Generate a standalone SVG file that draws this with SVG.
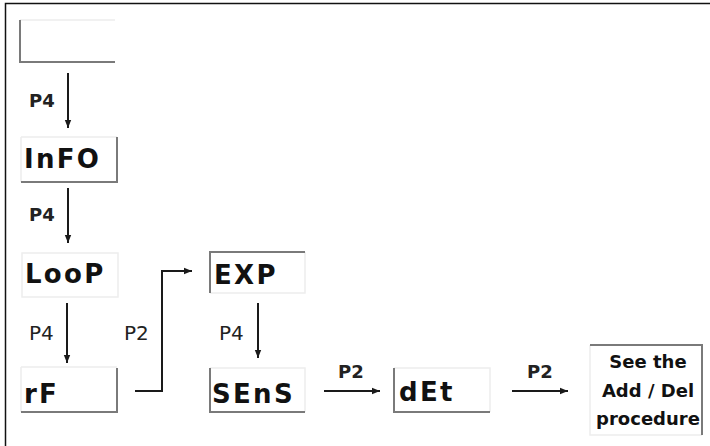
<svg xmlns="http://www.w3.org/2000/svg" width="710" height="446" viewBox="0 0 710 446">
<style>
.frame{fill:none;stroke:#111;stroke-width:1.5}
.dk{fill:none;stroke:#7a7a7a;stroke-width:2}
.lt{fill:none;stroke:#ededed;stroke-width:1.5}
.node{font-family:"DejaVu Sans",Verdana,sans-serif;font-weight:bold;font-size:26px;letter-spacing:2.3px;fill:#111}
.lb{font-family:"DejaVu Sans",Verdana,sans-serif;font-weight:bold;font-size:18px;fill:#222}
.lr{font-family:"DejaVu Sans",Verdana,sans-serif;font-size:20px;fill:#222}
.note{font-family:"DejaVu Sans",Verdana,sans-serif;font-weight:bold;font-size:18px;fill:#111;text-anchor:middle}
.cn{fill:none;stroke:#1a1a1a;stroke-width:2;marker-end:url(#ah)}
</style>
<defs>
<marker id="ah" markerUnits="userSpaceOnUse" markerWidth="9" markerHeight="8" refX="8" refY="4" orient="auto">
<path d="M0,0.8 L8,4 L0,7.2 z" fill="#1a1a1a"/>
</marker>
</defs>
<rect width="710" height="446" fill="#fff"/>
<path class="frame" d="M5.5,446 V3.5 H710"/>

<g id="node-blank">
<path class="lt" d="M20,20 H115"/>
<path class="dk" d="M20,20 V62 H115"/>
</g>
<g id="node-info">
<path class="lt" d="M21,137 H117 M21,137 V182"/>
<path class="dk" d="M117,137 V182 H21"/>
<text class="node" x="24" y="168">InFO</text>
</g>
<g id="node-loop">
<path class="lt" d="M22,253 H118 V297 H22 Z"/>
<text class="node" x="25" y="283">LooP</text>
</g>
<g id="node-rf">
<path class="lt" d="M21,367 H117 M21,367 V412"/>
<path class="dk" d="M117,368 V412 H21"/>
<text class="node" x="24" y="403">rF</text>
</g>
<g id="node-exp">
<path class="lt" d="M305,252 V293 H210"/>
<path class="dk" d="M210,293 V252 H305"/>
<text class="node" x="214" y="284">EXP</text>
</g>
<g id="node-sens">
<path class="lt" d="M210,368 H305 V412"/>
<path class="dk" d="M210,368 V412 H305"/>
<text class="node" x="212" y="403">SEnS</text>
</g>
<g id="node-det">
<path class="lt" d="M394,368 H490 V412"/>
<path class="dk" d="M394,368 V412 H490"/>
<text class="node" x="399" y="401">dEt</text>
</g>
<g id="node-adddel">
<path class="lt" d="M590,345 V435 H702"/>
<path class="dk" d="M590,345 H702 V435"/>
<text class="note" x="648" y="368">See the</text>
<text class="note" x="648" y="397">Add / Del</text>
<text class="note" x="648" y="425">procedure</text>
</g>

<g id="connectors">
<path class="cn" d="M68,73 V128"/>
<text class="lb" x="29" y="107">P4</text>
<path class="cn" d="M68,188 V243"/>
<text class="lb" x="29" y="221">P4</text>
<path class="cn" d="M67,303 V363"/>
<text class="lr" x="29" y="340">P4</text>
<path class="cn" d="M135,391 H162 V271 H192"/>
<text class="lr" x="124" y="340">P2</text>
<path class="cn" d="M258,303 V358"/>
<text class="lr" x="219" y="340">P4</text>
<path class="cn" d="M324,391 H380"/>
<text class="lb" x="338" y="378">P2</text>
<path class="cn" d="M512,391 H568"/>
<text class="lb" x="527" y="378">P2</text>
</g>
</svg>
